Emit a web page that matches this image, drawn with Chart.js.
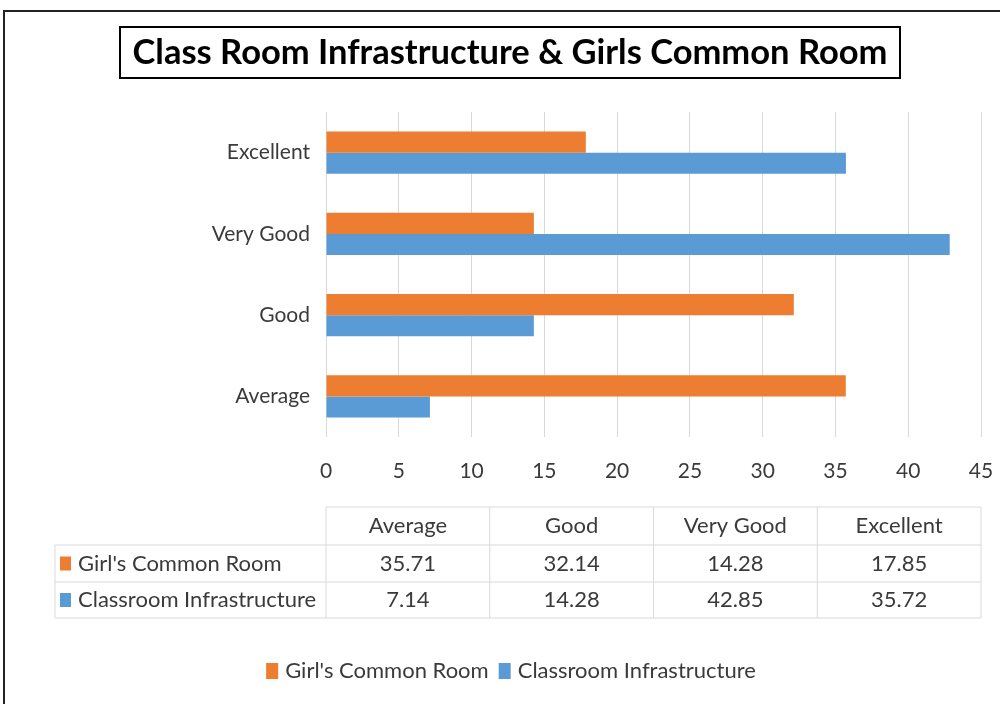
<!DOCTYPE html>
<html>
<head>
<meta charset="utf-8">
<script src="https://cdn.jsdelivr.net/npm/chart.js@4"></script>
<style>
  body { margin: 0; background: #fff; }
  #wrap { width: 1000px; height: 704px; position: relative; }
</style>
</head>
<body>
<div id="wrap"><canvas id="infraChart"></canvas></div>
<script>
const titleText = "Class Room Infrastructure & Girls Common Room";
const categories = ["Average", "Good", "Very Good", "Excellent"];
const seriesNames = ["Girl's Common Room", "Classroom Infrastructure"];
const girlsRoom = [35.71, 32.14, 14.28, 17.85];
const classroom = [7.14, 14.28, 42.85, 35.72];
const xMin = 0;
const xMax = 45;
const xStep = 5;

const orange = "#ED7D31";
const blue = "#5B9BD5";
const textColor = "#3a3a3a";
const lineGray = "#d9d9d9";
const font = "Lato";

// frame, title box, data table and legend are drawn around the chart
const extras = {
  id: "extras",
  beforeDraw(chart) {
    const ctx = chart.ctx;
    ctx.save();
    ctx.fillStyle = "#fff";
    ctx.fillRect(0, 0, chart.width, chart.height);
    ctx.strokeStyle = "#222";
    ctx.lineWidth = 2;
    ctx.beginPath();
    ctx.moveTo(4, chart.height);
    ctx.lineTo(4, 11);
    ctx.lineTo(chart.width, 11);
    ctx.stroke();
    ctx.restore();
  },
  afterDraw(chart) {
    const ctx = chart.ctx;
    const x = chart.scales.x;
    ctx.save();

    // title
    ctx.font = "bold 34.5px " + font;
    ctx.fillStyle = "#000";
    ctx.textAlign = "center";
    ctx.textBaseline = "middle";
    ctx.fillText(titleText, 510, 53);
    ctx.strokeStyle = "#000";
    ctx.lineWidth = 2;
    ctx.strokeRect(120, 27, 780, 51);

    // data table
    const colW = (x.right - x.left) / categories.length;
    const rowY = [507, 545, 582, 618];
    const labelLeft = 55;
    ctx.strokeStyle = lineGray;
    ctx.lineWidth = 1;
    ctx.beginPath();
    ctx.moveTo(x.left, rowY[0]);
    ctx.lineTo(x.right, rowY[0]);
    for (let r = 1; r < rowY.length; r++) {
      ctx.moveTo(labelLeft, rowY[r]);
      ctx.lineTo(x.right, rowY[r]);
    }
    ctx.moveTo(labelLeft, rowY[1]);
    ctx.lineTo(labelLeft, rowY[3]);
    for (let c = 0; c <= categories.length; c++) {
      const cx = x.left + c * colW;
      ctx.moveTo(cx, rowY[0]);
      ctx.lineTo(cx, rowY[3]);
    }
    ctx.stroke();

    ctx.font = "22px " + font;
    ctx.fillStyle = textColor;
    ctx.textAlign = "center";
    categories.forEach((cat, i) => {
      const cx = x.left + (i + 0.5) * colW;
      ctx.fillText(cat, cx, (rowY[0] + rowY[1]) / 2);
    });
    chart.data.datasets.forEach((ds, d) => {
      const cy = (rowY[d + 1] + rowY[d + 2]) / 2;
      ds.data.forEach((v, i) => {
        ctx.fillStyle = textColor;
        ctx.textAlign = "center";
        ctx.fillText(v.toFixed(2), x.left + (i + 0.5) * colW, cy);
      });
      ctx.fillStyle = ds.backgroundColor;
      ctx.fillRect(labelLeft + 5, cy - 7, 11, 14);
      ctx.fillStyle = textColor;
      ctx.textAlign = "left";
      ctx.fillText(ds.label, labelLeft + 23, cy);
    });

    // legend
    const items = chart.data.datasets.map((ds) => ({
      label: ds.label, color: ds.backgroundColor, w: ctx.measureText(ds.label).width
    }));
    const box = 12, gap = 7, spacing = 10;
    let total = 0;
    items.forEach((it, i) => { total += box + gap + it.w + (i ? spacing : 0); });
    let lx = 511 - total / 2;
    const ly = 671;
    items.forEach((it) => {
      ctx.fillStyle = it.color;
      ctx.fillRect(lx, ly - 8, box, 16);
      lx += box + gap;
      ctx.fillStyle = textColor;
      ctx.textAlign = "left";
      ctx.fillText(it.label, lx, ly);
      lx += it.w + spacing;
    });
    ctx.restore();
  }
};

const ctx = document.querySelector("#infraChart").getContext("2d");

const data = {
  labels: categories,
  datasets: [
    { label: seriesNames[0], data: girlsRoom, backgroundColor: orange },
    { label: seriesNames[1], data: classroom, backgroundColor: blue }
  ]
};

const config = {
  type: "bar",
  data: data,
  options: {
    indexAxis: "y",
    responsive: true,
    maintainAspectRatio: false,
    animation: false,
    categoryPercentage: 0.52,
    barPercentage: 1.0,
    layout: {
      padding: { top: 112, right: 19, bottom: 217, left: 0 }
    },
    scales: {
      x: {
        min: xMin,
        max: xMax,
        ticks: {
          stepSize: xStep,
          padding: 22,
          color: textColor,
          font: { family: font, size: 21 }
        },
        grid: { color: lineGray, drawTicks: false },
        border: { display: false },
        afterFit: (scale) => {
          scale.height = 50;
          scale.paddingLeft = 0;
          scale.paddingRight = 0;
        }
      },
      y: {
        reverse: true,
        ticks: {
          padding: 16,
          color: textColor,
          font: { family: font, size: 21 }
        },
        grid: { display: false, drawTicks: false },
        border: { display: false },
        afterFit: (scale) => { scale.width = 326; }
      }
    },
    plugins: {
      legend: { display: false },
      title: { display: false },
      tooltip: { enabled: false }
    }
  },
  plugins: [extras]
};

const myChart = new Chart(ctx, config);
</script>
</body>
</html>
